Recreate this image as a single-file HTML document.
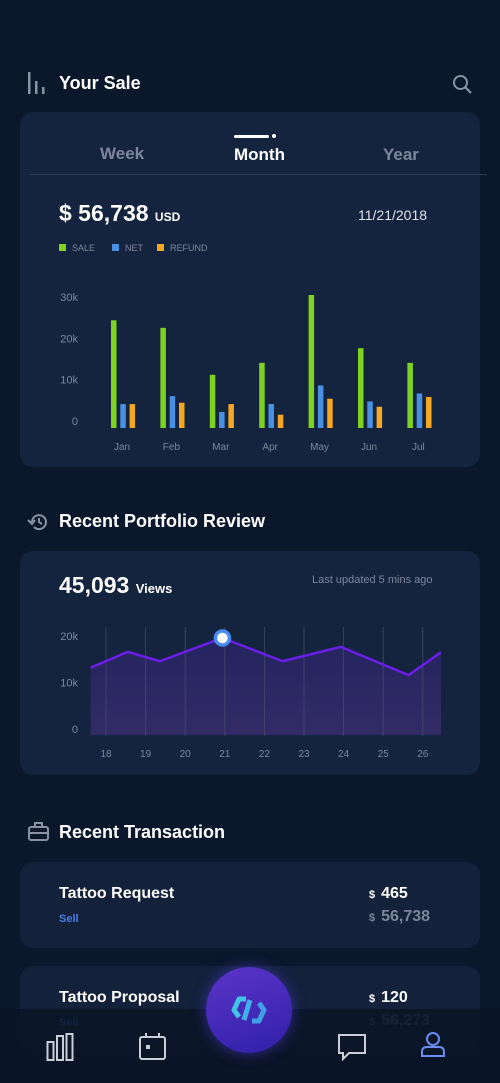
<!DOCTYPE html>
<html><head><meta charset="utf-8"><style>
*{margin:0;padding:0;box-sizing:border-box}
body{width:500px;height:1083px;overflow:hidden;background:#0b172b;font-family:"Liberation Sans",sans-serif;color:#fff;position:relative}
.abs{position:absolute}
.card{position:absolute;left:20px;width:460px;background:#14243f;border-radius:13px}
.h{font-weight:bold;font-size:18px;color:#fff}
.g{color:#8a93a6}
</style></head><body>
<!-- header -->
<svg class="abs" style="left:26px;top:70px" width="22" height="26"><rect x="2" y="2" width="2.5" height="22" fill="#8a93a6"/><rect x="9" y="11" width="2.5" height="13" fill="#8a93a6"/><rect x="16" y="17" width="2.5" height="7" fill="#8a93a6"/></svg>
<div class="abs h" style="left:59px;top:73px">Your Sale</div>
<svg class="abs" style="left:452px;top:74px" width="22" height="22"><circle cx="8.5" cy="8.5" r="6.5" stroke="#8a93a6" stroke-width="2" fill="none"/><line x1="13" y1="13" x2="19" y2="19" stroke="#8a93a6" stroke-width="2.2"/></svg>

<div class="card" style="top:112px;height:355px"></div>
<div class="abs" style="left:100px;top:144px;font-size:17px;font-weight:bold;color:#7d8699">Week</div>
<div class="abs" style="left:234px;top:145px;font-size:17px;font-weight:bold;color:#fff">Month</div>
<div class="abs" style="left:383px;top:145px;font-size:17px;font-weight:bold;color:#7d8699">Year</div>
<div class="abs" style="left:234px;top:135px;width:35px;height:2.5px;background:#fff;border-radius:2px"></div>
<div class="abs" style="left:272px;top:134px;width:4px;height:4px;background:#fff;border-radius:50%"></div>
<div class="abs" style="left:29px;top:174px;width:458px;height:1px;background:#2f3c55"></div>
<div class="abs" style="left:59px;top:200px;font-size:23px;font-weight:bold">$ 56,738 <span style="font-size:12px">USD</span></div>
<div class="abs" style="left:358px;top:207px;font-size:14px;color:#dfe3ea">11/21/2018</div>
<div class="abs" style="left:59px;top:243px;font-size:9px;color:#7d8699;display:flex;gap:0">
<span style="width:53px"><i style="display:inline-block;width:7px;height:7px;background:#7ed321;margin-right:6px"></i>SALE</span>
<span style="width:45px"><i style="display:inline-block;width:7px;height:7px;background:#4a90e2;margin-right:6px"></i>NET</span>
<span><i style="display:inline-block;width:7px;height:7px;background:#f5a623;margin-right:6px"></i>REFUND</span></div>
<svg class="abs" style="left:0;top:0" width="500" height="470" id="bar"></svg>

<!-- portfolio -->
<svg class="abs" style="left:27px;top:512px" width="22" height="20"><path d="M5 10 A7 7 0 1 1 7 15" stroke="#8a93a6" stroke-width="2" fill="none"/><path d="M1 8 L5 12 L8 8" stroke="#8a93a6" stroke-width="2" fill="none"/><path d="M12 6 V10 L15 12" stroke="#8a93a6" stroke-width="2" fill="none"/></svg>
<div class="abs h" style="left:59px;top:511px">Recent Portfolio Review</div>
<div class="card" style="top:551px;height:224px"></div>
<div class="abs" style="left:59px;top:572px;font-size:23px;font-weight:bold">45,093 <span style="font-size:13px">Views</span></div>
<div class="abs" style="left:312px;top:574px;font-size:11px;color:#7d8699">Last updated 5 mins ago</div>
<svg class="abs" style="left:0;top:0" width="500" height="780" id="line"></svg>

<!-- transactions -->
<svg class="abs" style="left:28px;top:822px" width="22" height="20"><rect x="1" y="5" width="19" height="13" rx="2" stroke="#8a93a6" stroke-width="2" fill="none"/><rect x="7" y="1" width="7" height="4" stroke="#8a93a6" stroke-width="2" fill="none"/><line x1="1" y1="11" x2="20" y2="11" stroke="#8a93a6" stroke-width="2"/></svg>
<div class="abs h" style="left:59px;top:822px">Recent Transaction</div>
<div class="card" style="top:862px;height:86px;background:#13213b"></div>
<div class="abs" style="left:59px;top:885px;font-size:16px;font-weight:bold">Tattoo Request</div>
<div class="abs" style="left:59px;top:913px;font-size:11px;font-weight:bold;color:#4a7de8">Sell</div>
<div class="abs" style="left:369px;top:885px;font-size:16px;font-weight:bold"><span style="font-size:11px;margin-right:6px">$</span>465</div>
<div class="abs" style="left:369px;top:908px;font-size:16px;font-weight:bold;color:#7d8699"><span style="font-size:11px;margin-right:6px">$</span>56,738</div>
<div class="card" style="top:966px;height:86px;background:#13213b"></div>
<div class="abs" style="left:59px;top:989px;font-size:16px;font-weight:bold">Tattoo Proposal</div>
<div class="abs" style="left:59px;top:1017px;font-size:11px;font-weight:bold;color:#4a7de8">Sell</div>
<div class="abs" style="left:369px;top:989px;font-size:16px;font-weight:bold"><span style="font-size:11px;margin-right:6px">$</span>120</div>
<div class="abs" style="left:369px;top:1012px;font-size:16px;font-weight:bold;color:#7d8699"><span style="font-size:11px;margin-right:6px">$</span>56,273</div>

<!-- bottom nav -->
<div class="abs" style="left:0;top:1009px;width:500px;height:74px;background:rgba(10,21,39,0.88)"></div>
<svg class="abs" style="left:46px;top:1032px" width="30" height="30"><g stroke="#c9ced8" stroke-width="2" fill="none"><rect x="1.5" y="10" width="6" height="18"/><rect x="11" y="4" width="6" height="24"/><rect x="20.5" y="2" width="6" height="26"/></g></svg>
<svg class="abs" style="left:138px;top:1032px" width="30" height="30"><g stroke="#c9ced8" stroke-width="2" fill="none"><rect x="2" y="5" width="25" height="22" rx="2"/><line x1="8" y1="1" x2="8" y2="6"/><line x1="21" y1="1" x2="21" y2="6"/></g><rect x="8" y="13" width="4" height="4" fill="#c9ced8"/></svg>
<div class="abs" style="left:206px;top:967px;width:86px;height:86px;border-radius:50%;background:linear-gradient(160deg,#5b34c9,#3020a8);box-shadow:0 0 14px rgba(80,60,220,0.6)">
<svg width="86" height="86"><g stroke-width="5" fill="none" stroke-linejoin="round"><path d="M40 32 L33 32 L28 43 L33 50" stroke="#3fc4e8"/><path d="M46 54 L53 54 L58 43 L53 36" stroke="#3fa0e8"/><path d="M44 33 L38 53" stroke="#3fb0e8"/></g></svg></div>
<svg class="abs" style="left:337px;top:1033px" width="30" height="30"><path d="M2 2 H28 V20 H12 L6 26 V20 H2 Z" stroke="#c9ced8" stroke-width="2" fill="none"/></svg>
<svg class="abs" style="left:420px;top:1031px" width="26" height="28"><g stroke="#6b8cf0" stroke-width="2" fill="none"><circle cx="13" cy="8" r="6"/><path d="M2 25 V21 Q2 16 7 16 H19 Q24 16 24 21 V25 Z"/></g></svg>

<script>
const months=["Jan","Feb","Mar","Apr","May","Jun","Jul"];
const sale=[24.3,22.6,12,14.7,30,18,14.7];
const net=[5.4,7.2,3.6,5.4,9.6,6,7.8];
const refund=[5.4,5.7,5.4,3,6.6,4.8,7];
const barTicks=[0,10,20,30];
const days=[18,19,20,21,22,23,24,25,26];
const viewX=[17.61,18.55,19.36,20.94,22.46,23.93,25.64,26.46];
const views=[13.6,16.8,14.9,19.6,14.9,17.8,12.1,16.7];
const viewTicks=[0,10,20];
const highlightIndex=3;

const NS="http://www.w3.org/2000/svg";
function mk(svg,tag,attrs,txt){const e=document.createElementNS(NS,tag);for(const k in attrs)e.setAttribute(k,attrs[k]);if(txt!=null)e.textContent=txt;svg.appendChild(e);return e;}
// bar chart
const bar=document.getElementById('bar');
const by=v=>428-v*(133/30);
const bx=i=>111+i*49.4;
const byLabel=v=>425-v*(124/30);
barTicks.forEach(t=>{const e=mk(bar,'text',{x:78,y:byLabel(t),'text-anchor':'end','font-size':11,fill:'#7d8699','font-family':'Liberation Sans'},t?t+'k':'0');

});
months.forEach((m,i)=>{
 [[sale,'#7ed321',0],[net,'#4a90e2',9.3],[refund,'#f5a623',18.6]].forEach(([arr,c,off])=>{
  const r=mk(bar,'rect',{x:bx(i)+off,y:by(arr[i]),width:5.5,height:428-by(arr[i]),fill:c});
  
  
 });
 const t=mk(bar,'text',{x:bx(i)+11,y:450,'text-anchor':'middle','font-size':10,fill:'#7d8699','font-family':'Liberation Sans'},m);
 
 
});
// line chart
const ln=document.getElementById('line');
const lx=d=>106+(d-18)*39.6;
const ly=v=>735-v*4.95;
const lyLabel=v=>733-v*4.65;
const defs=mk(ln,'defs',{});const gr=mk(defs,'linearGradient',{id:'fg',x1:0,y1:0,x2:0,y2:1});
mk(gr,'stop',{offset:0,'stop-color':'#23245e'});mk(gr,'stop',{offset:1,'stop-color':'#332b66'});
let pts=viewX.map((d,i)=>lx(d)+','+ly(views[i])).join(' ');
const area=mk(ln,'polygon',{points:lx(viewX[0])+',735 '+pts+' '+lx(viewX[viewX.length-1])+',735',fill:'url(#fg)'});


days.forEach(d=>{const g=mk(ln,'line',{x1:lx(d),x2:lx(d),y1:627,y2:736,stroke:'#4a5170','stroke-width':0.8,opacity:0.8});


const t=mk(ln,'text',{x:lx(d),y:757,'text-anchor':'middle','font-size':10,fill:'#7d8699','font-family':'Liberation Sans'},d);

});
viewTicks.forEach(t=>{const e=mk(ln,'text',{x:78,y:lyLabel(t),'text-anchor':'end','font-size':11,fill:'#7d8699','font-family':'Liberation Sans'},t?t+'k':'0');

});
const pl=mk(ln,'polyline',{points:pts,fill:'none',stroke:'#6a1ee8','stroke-width':2.5,'stroke-linejoin':'round'});


const hp=mk(ln,'circle',{cx:lx(viewX[highlightIndex]),cy:ly(views[highlightIndex]),r:7,fill:'#fff',stroke:'#4a8cf5','stroke-width':3.5});


</script>
</body></html>
